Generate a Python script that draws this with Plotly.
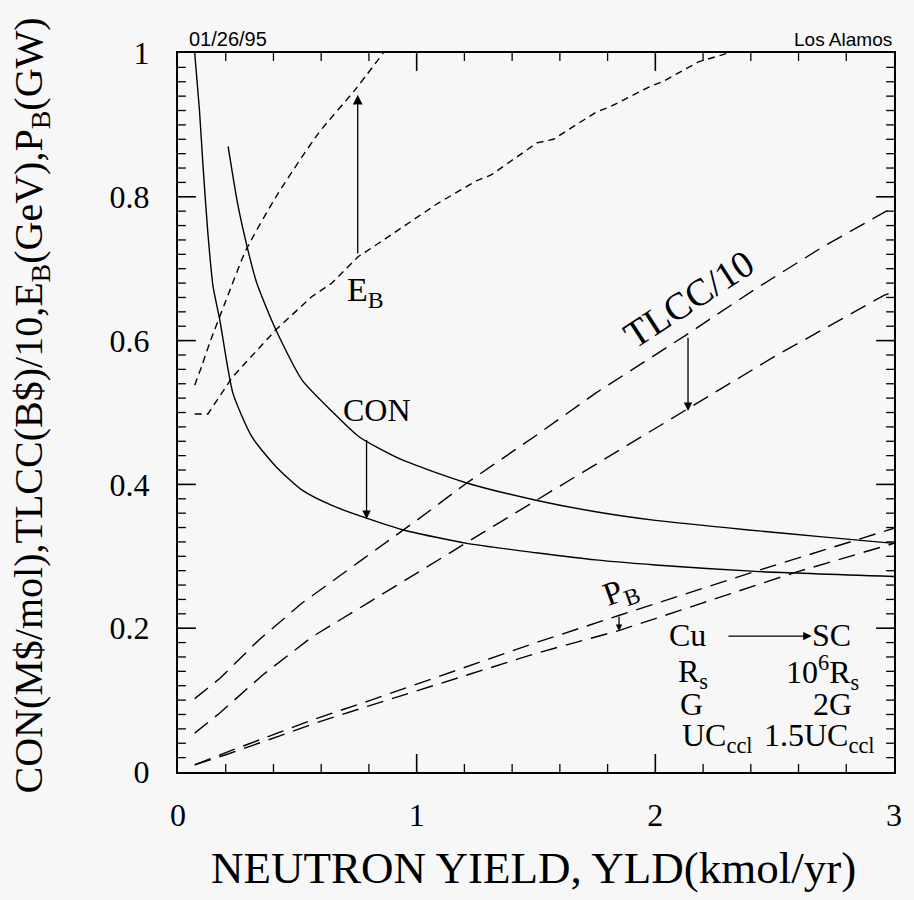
import plotly.graph_objects as go

# ---- data ----
x_con_cu = [0.21, 0.25, 0.29, 0.33, 0.41, 0.52, 0.65, 0.76, 0.94, 1.21, 1.5, 1.75, 2.0, 2.38, 2.7, 3.0]
y_con_cu = [0.87, 0.79, 0.73, 0.68, 0.615, 0.545, 0.50, 0.466, 0.434, 0.402, 0.378, 0.362, 0.350, 0.337, 0.327, 0.318]

x_con_sc = [0.07, 0.09, 0.105, 0.125, 0.147, 0.175, 0.23, 0.31, 0.41, 0.52, 0.65, 0.79, 0.94, 1.21, 1.5, 1.75, 2.0, 2.42, 3.0]
y_con_sc = [1.0, 0.92, 0.842, 0.75, 0.675, 0.629, 0.527, 0.466, 0.425, 0.392, 0.37, 0.353, 0.337, 0.318, 0.305, 0.295, 0.288, 0.279, 0.272]

x_eb_sc = [0.07, 0.10, 0.133, 0.2, 0.285, 0.42, 0.59, 0.74, 0.86]
y_eb_sc = [0.538, 0.565, 0.597, 0.655, 0.726, 0.805, 0.889, 0.948, 1.0]

x_eb_cu = [0.07, 0.125, 0.23, 0.41, 0.56, 0.645, 0.756, 0.839, 1.089, 1.255, 1.31, 1.504, 1.573, 1.753, 1.809, 1.975, 2.03, 2.183, 2.307]
y_eb_cu = [0.498, 0.498, 0.55, 0.615, 0.661, 0.68, 0.717, 0.735, 0.791, 0.823, 0.830, 0.875, 0.88, 0.918, 0.925, 0.953, 0.960, 0.988, 1.0]

x_tlcc_cu = [0.07, 0.175, 0.34, 0.52, 0.77, 1.0, 1.21, 1.5, 1.75, 2.13, 2.42, 2.7, 3.0]
y_tlcc_cu = [0.102, 0.13, 0.184, 0.235, 0.295, 0.35, 0.402, 0.468, 0.527, 0.608, 0.672, 0.73, 0.786]

x_tlcc_sc = [0.07, 0.175, 0.355, 0.562, 0.8, 0.94, 1.116, 1.213, 1.753, 2.14, 2.5, 2.958, 3.0]
y_tlcc_sc = [0.054, 0.082, 0.135, 0.188, 0.236, 0.264, 0.30, 0.32, 0.429, 0.506, 0.578, 0.663, 0.668]

x_pb_cu = [0.07, 0.2, 0.424, 0.576, 0.8, 1.213, 1.5, 1.85, 2.418, 3.0]
y_pb_cu = [0.01, 0.027, 0.055, 0.074, 0.099, 0.147, 0.18, 0.218, 0.279, 0.339]

x_pb_sc = [0.07, 0.2, 0.424, 0.576, 0.8, 1.213, 1.5, 1.85, 2.58, 3.0]
y_pb_sc = [0.01, 0.024, 0.05, 0.068, 0.092, 0.135, 0.165, 0.197, 0.277, 0.318]

x_tickvals = [0, 1, 2, 3]
x_minor_step = 0.2
y_tickvals = [0, 0.2, 0.4, 0.6, 0.8, 1.0]
y_minor_step = 0.02

SERIF = "Liberation Serif"
BG = "#f7f7f7"

W, H = 914, 900
ML, MR, MT, MB = 178, 14, 53, 128
xmin, xmax = x_tickvals[0], x_tickvals[-1]
ymin, ymax = y_tickvals[0], y_tickvals[-1]
x_per_px = (xmax - xmin) / (W - ML - MR)
y_per_px = (ymax - ymin) / (H - MT - MB)

fig = go.Figure()

def add_line(x, y, dash, shape="linear", width=1.4):
    line = dict(color="black", width=width, dash=dash, shape=shape)
    if shape == "spline":
        line["smoothing"] = 0.6
    fig.add_trace(go.Scatter(x=x, y=y, mode="lines", line=line,
                             showlegend=False, hoverinfo="skip"))

add_line(x_con_cu, y_con_cu, "solid", "spline")
add_line(x_con_sc, y_con_sc, "solid", "spline")
add_line(x_eb_sc, y_eb_sc, "7px,5px", "spline")
add_line(x_eb_cu, y_eb_cu, "7px,5px")
add_line(x_tlcc_cu, y_tlcc_cu, "17px,9px")
add_line(x_tlcc_sc, y_tlcc_sc, "17px,9px")
add_line(x_pb_cu, y_pb_cu, "17px,9px")
add_line(x_pb_sc, y_pb_sc, "17px,9px")

# ---- tick marks on all four sides (inward), built from the tick values ----
n_xminor = int(round((xmax - xmin) / x_minor_step))
n_yminor = int(round((ymax - ymin) / y_minor_step))
x_minor = [round(xmin + i * x_minor_step, 6) for i in range(n_xminor + 1)]
y_minor = [round(ymin + i * y_minor_step, 6) for i in range(n_yminor + 1)]

def tick_segments(is_major):
    tx, ty = [], []
    for v in x_minor:
        major = any(abs(v - t) < 1e-9 for t in x_tickvals)
        if major != is_major or v <= xmin or v >= xmax:
            continue
        L = (18 if major else 8) * y_per_px
        tx += [v, v, None, v, v, None]
        ty += [ymin, ymin + L, None, ymax, ymax - L, None]
    for v in y_minor:
        major = any(abs(v - t) < 1e-9 for t in y_tickvals)
        if major != is_major or v <= ymin or v >= ymax:
            continue
        L = (18 if major else 8) * x_per_px
        tx += [xmin, xmin + L, None, xmax, xmax - L, None]
        ty += [v, v, None, v, v, None]
    return tx, ty

for is_major, lw in ((True, 1.6), (False, 1.3)):
    tx, ty = tick_segments(is_major)
    fig.add_trace(go.Scatter(x=tx, y=ty, mode="lines", line=dict(color="black", width=lw),
                             showlegend=False, hoverinfo="skip", connectgaps=False))

ann = []
def arrow(x0, y0, x1, y1, size=1.3):
    ann.append(dict(x=x1, y=y1, ax=x0, ay=y0, xref="x", yref="y", axref="x", ayref="y",
                    showarrow=True, arrowhead=2, arrowsize=size, arrowwidth=1.3, arrowcolor="black", text=""))

arrow(0.753, 0.719, 0.753, 0.942, size=1.5)   # E_B
arrow(0.79, 0.464, 0.79, 0.352)     # CON
arrow(2.137, 0.606, 2.137, 0.502)   # TLCC
arrow(1.848, 0.218, 1.848, 0.196, size=1.0)   # P_B
arrow(2.30, 0.189, 2.655, 0.189)    # Cu -> SC

def text(x, y, s, size=30, angle=0, xanchor="center", yanchor="middle"):
    ann.append(dict(x=x, y=y, xref="x", yref="y", text=s, showarrow=False, textangle=angle,
                    xanchor=xanchor, yanchor=yanchor, font=dict(family=SERIF, size=size, color="black")))

text(0.785, 0.668, "E<sub>B</sub>", 34)
text(0.835, 0.503, "CON", 32)
text(2.14, 0.658, "TLCC/10", 38, angle=-33)
text(1.855, 0.25, "P<sub>B</sub>", 33, angle=-20)

text(2.05, 0.19, "Cu", 32, xanchor="left")
text(2.737, 0.19, "SC", 32)
text(2.085, 0.137, "R<sub>s</sub>", 32, xanchor="left")
text(2.70, 0.138, "10<sup>6</sup>R<sub>s</sub>", 32)
text(2.093, 0.095, "G", 32, xanchor="left")
text(2.742, 0.095, "2G", 32)
text(2.105, 0.048, "UC<sub>ccl</sub>", 32, xanchor="left")
text(2.688, 0.048, "1.5UC<sub>ccl</sub>", 32)

# top small texts
ann.append(dict(x=0.012, y=1.0, xref="paper", yref="paper", text="01/26/95", showarrow=False,
                xanchor="left", yanchor="bottom", yshift=1, font=dict(family="Liberation Sans", size=20, color="black")))
ann.append(dict(x=1.0, y=1.0, xref="paper", yref="paper", text="Los Alamos", showarrow=False,
                xanchor="right", yanchor="bottom", yshift=1, font=dict(family="Liberation Sans", size=19, color="black")))

# axis titles
ann.append(dict(x=0.497, y=-0.1335, xref="paper", yref="paper", text="NEUTRON YIELD, YLD(kmol/yr)", showarrow=False,
                xanchor="center", yanchor="middle", font=dict(family=SERIF, size=45, color="black")))
ann.append(dict(x=-0.205, y=0.51, xref="paper", yref="paper",
                text="CON(M$/mol),TLCC(B$)/10,E<sub>B</sub>(GeV),P<sub>B</sub>(GW)", showarrow=False, textangle=-90,
                xanchor="center", yanchor="middle", font=dict(family=SERIF, size=40, color="black")))

fig.update_layout(
    width=W, height=H,
    margin=dict(l=ML, r=MR, t=MT, b=MB),
    paper_bgcolor=BG, plot_bgcolor=BG,
    annotations=ann,
    xaxis=dict(range=[xmin, xmax], dtick=x_tickvals[1] - x_tickvals[0],
               showline=True, linecolor="black", linewidth=2, mirror=True, ticks="",
               showgrid=False, zeroline=False, ticklabelstandoff=14,
               tickfont=dict(family=SERIF, size=32, color="black")),
    yaxis=dict(range=[ymin, ymax], dtick=y_tickvals[1] - y_tickvals[0],
               showline=True, linecolor="black", linewidth=2, mirror=True, ticks="",
               showgrid=False, zeroline=False, ticklabelstandoff=20,
               tickfont=dict(family=SERIF, size=32, color="black")),
)

fig.write_html("out.html")
